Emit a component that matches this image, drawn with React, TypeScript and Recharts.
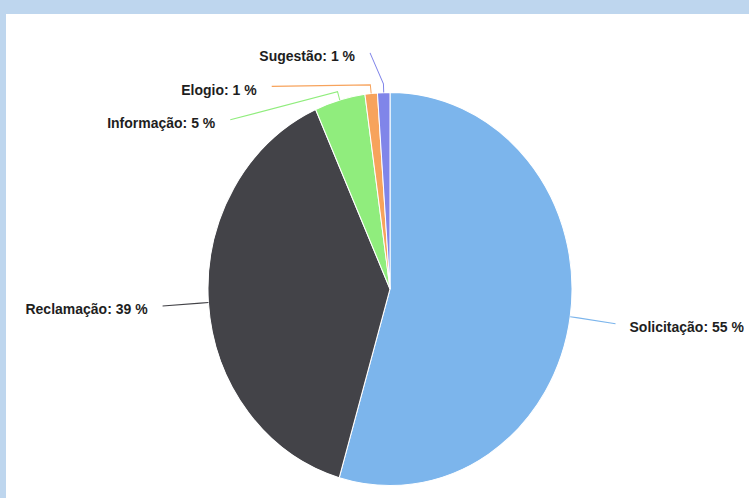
import React from 'react';
import { PieChart, Pie, Cell } from 'recharts';

const categories = ['Solicitação', 'Reclamação', 'Informação', 'Elogio', 'Sugestão'];
const shares = [54.5, 38.8, 4.5, 1.1, 1.1];
const shareLabels = [55, 39, 5, 1, 1];
const colors = ['#7cb5ec', '#434348', '#90ed7d', '#f7a35c', '#8085e9'];

const data = categories.map((name, i) => ({ name, value: shares[i], pct: shareLabels[i] }));

// layout (chart is stretched vertically like the reference picture)
const STRETCH = 1.08;
const PANEL_LEFT = 6;
const PANEL_TOP = 14;
const W = 743;
const H = 449;
const CX = 384;
const CY = 254.6;
const R = 182;
const LABEL_RY = 229;
const LABEL_A = 228;
const LABEL_B = 237;
const LABEL_TOP = 36;
const SPACING = 31;
const MIN_DX = 10;

type LabelPos = { dx: number; dy: number; side: number };

function layoutLabels(): LabelPos[] {
  const total = shares.reduce((a, b) => a + b, 0);
  let acc = 0;
  const items = shares.map((v, i) => {
    const theta = ((acc + v / 2) / total) * 2 * Math.PI;
    acc += v;
    const side = Math.sin(theta) >= 0 ? 1 : -1;
    return { i, side, dy: -LABEL_RY * Math.cos(theta) };
  });
  const result: LabelPos[] = new Array(shares.length);
  const topDy = LABEL_TOP - CY;
  [-1, 1].forEach((side) => {
    const group = items.filter((it) => it.side === side).sort((a, b) => a.dy - b.dy);
    let prev = -Infinity;
    group.forEach((it) => {
      const dy = Math.max(it.dy, topDy, prev + SPACING);
      prev = dy;
      const dyS = dy * STRETCH;
      const dx = Math.max(MIN_DX, LABEL_A * Math.sqrt(Math.max(0, 1 - (dyS / LABEL_B) ** 2)));
      result[it.i] = { dx: side * dx, dy, side };
    });
  });
  return result;
}

const labelLayout = layoutLabels();

const renderLabel = (props: any) => {
  const { cx, cy, midAngle, outerRadius, index, payload } = props;
  const L = labelLayout[index];
  const rad = Math.PI / 180;
  const cos = Math.cos(-midAngle * rad);
  const sin = Math.sin(-midAngle * rad);
  const ex = cx + outerRadius * cos;
  const ey = cy + outerRadius * sin;
  const bx = cx + (outerRadius + 8) * cos;
  const by = cy + (outerRadius + 8) * sin;
  const ax = cx + L.dx;
  const ay = cy + L.dy;
  const tx = L.side < 0 ? ax - 15 : ax + 14;
  const item = payload && payload.payload ? payload.payload : payload;
  const name = item?.name ?? categories[index];
  const pct = item?.pct ?? shareLabels[index];
  return (
    <g key={`lbl-${index}`}>
      <path
        d={`M${ax},${ay}L${bx},${by}L${ex},${ey}`}
        stroke={colors[index]}
        strokeWidth={1}
        fill="none"
      />
      <text
        x={tx}
        y={ay + 3}
        textAnchor={L.side < 0 ? 'end' : 'start'}
        dominantBaseline="central"
        fontFamily="'Liberation Sans', Arial, sans-serif"
        fontSize={14}
        fontWeight="bold"
        fill="#1e1e1e"
      >
        {`${name}: ${pct} %`}
      </text>
    </g>
  );
};

export default function App() {
  return (
    <div
      style={{
        position: 'absolute',
        left: 0,
        top: 0,
        width: 749,
        height: 498,
        background: '#bed6ee',
        overflow: 'hidden',
      }}
    >
      <div
        style={{
          position: 'absolute',
          left: PANEL_LEFT,
          top: PANEL_TOP,
          right: 0,
          bottom: 0,
          background: '#ffffff',
        }}
      >
        <div
          style={{
            width: W,
            height: H,
            transform: `scaleY(${STRETCH})`,
            transformOrigin: '0 0',
          }}
        >
          <PieChart width={W} height={H} margin={{ top: 0, right: 0, bottom: 0, left: 0 }}>
            <Pie
              data={data}
              dataKey="value"
              nameKey="name"
              cx={CX}
              cy={CY}
              outerRadius={R}
              innerRadius={0}
              startAngle={90}
              endAngle={-270}
              stroke="#ffffff"
              strokeWidth={1}
              label={renderLabel}
              labelLine={false}
              isAnimationActive={false}
            >
              {data.map((d, i) => (
                <Cell key={d.name} fill={colors[i]} />
              ))}
            </Pie>
          </PieChart>
        </div>
      </div>
    </div>
  );
}
